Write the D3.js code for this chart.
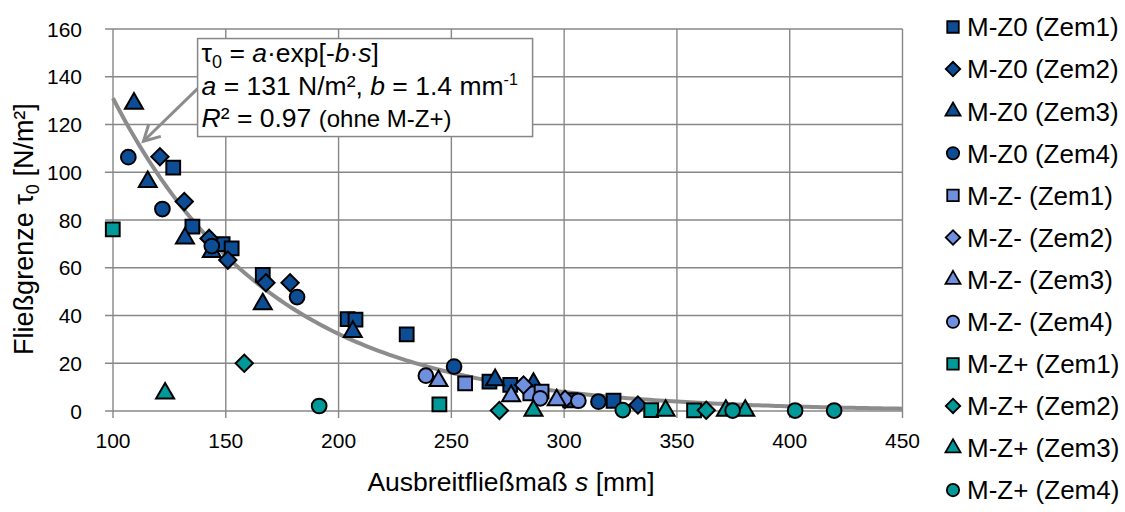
<!DOCTYPE html>
<html>
<head>
<meta charset="utf-8">
<script src="https://cdn.jsdelivr.net/npm/d3@7"></script>
<style>
  body { margin: 0; background: #fff; }
  text { font-family: "Liberation Sans", Arial, sans-serif; fill: #000; }
</style>
</head>
<body>
<div id="chart-area"></div>
<script>
// ticks
const xTicks = [100, 150, 200, 250, 300, 350, 400, 450];
const yTicks = [0, 20, 40, 60, 80, 100, 120, 140, 160];

// fit from the annotation: tau0 = a*exp[-b*s], b per 100 mm, from s = 100 mm
const fitA = 131;
const fitB = 1.4;
const fitStart = 100;
const fitEnd = 450;

// measured points [s mm, tau0 N/m2]
const mz0Zem1 = [[126.7, 101.9], [135.2, 77.2], [148.6, 69.9], [152.6, 68.1], [166.4, 57.0], [204, 38.5], [207.5, 38.3], [230.2, 32.1], [266.9, 12.3], [276.1, 10.9], [302.7, 4.5], [321.9, 4.3]];
const mz0Zem2 = [[120.8, 106.5], [131.6, 87.7], [142.6, 72.3], [150.9, 63.2], [167.8, 53.7], [178.5, 53.7], [332.7, 2.5]];
const mz0Zem3 = [[109.3, 128.8], [115.4, 96.0], [131.9, 72.3], [143.8, 66.7], [166.4, 44.8], [206.3, 33.2], [269.4, 13.0], [286.4, 11.5]];
const mz0Zem4 = [[106.8, 106.3], [121.9, 84.6], [143.8, 69.1], [181.6, 47.7], [251.2, 18.6], [315.2, 3.9]];
const mzmZem1 = [[256.1, 11.6], [285, 7.4], [290, 8.1]];
const mzmZem2 = [[282, 10.9], [300.4, 4.9]];
const mzmZem3 = [[244.3, 12.6], [276.5, 6.3], [296.7, 4.6]];
const mzmZem4 = [[238.7, 14.8], [289.4, 5.3], [306.3, 4.3]];
const mzpZem1 = [[99.9, 76.1], [244.7, 2.8], [338.6, 0.4], [357.6, 0.3]];
const mzpZem2 = [[158.2, 20.0], [271.3, 0.2], [363, 0.3]];
const mzpZem3 = [[123.1, 7.4], [286.4, 0.2], [345, 0.2], [371.7, 0.2], [380.3, 0.2]];
const mzpZem4 = [[191.4, 2.1], [326, 0.4], [374.7, 0.2], [402.4, 0.2], [419.7, 0.2]];

const seriesNames = [
  "M-Z0 (Zem1)", "M-Z0 (Zem2)", "M-Z0 (Zem3)", "M-Z0 (Zem4)",
  "M-Z- (Zem1)", "M-Z- (Zem2)", "M-Z- (Zem3)", "M-Z- (Zem4)",
  "M-Z+ (Zem1)", "M-Z+ (Zem2)", "M-Z+ (Zem3)", "M-Z+ (Zem4)"
];
const seriesData = [mz0Zem1, mz0Zem2, mz0Zem3, mz0Zem4, mzmZem1, mzmZem2, mzmZem3, mzmZem4, mzpZem1, mzpZem2, mzpZem3, mzpZem4];

const mixColors = ["#0d4d96", "#6f8fdf", "#00999a"];
// square, diamond (rotated square), triangle, circle
const shapes = [d3.symbolSquare, d3.symbolSquare, d3.symbolTriangle, d3.symbolCircle];
const shapeRotate = [0, 45, 0, 0];
const shapeSize = [190, 150, 140, 170];

const series = seriesNames.map((name, i) => {
  return {
    name: name,
    points: seriesData[i],
    color: mixColors[Math.floor(i / 4)],
    shape: shapes[i % 4],
    rotate: shapeRotate[i % 4],
    size: shapeSize[i % 4],
  };
});

const gridColor = "#878787";

const svg = d3
  .select("#chart-area")
  .append("svg")
  .attr("width", 1125)
  .attr("height", 512);

const x = d3.scaleLinear([100, 450], [113, 902.5]);
const y = d3.scaleLinear([0, 160], [411, 29]);

// grid
svg
  .append("g")
  .selectAll("line")
  .data(yTicks)
  .join("line")
  .attr("x1", x(100) - 8)
  .attr("x2", x(450))
  .attr("y1", (d) => y(d))
  .attr("y2", (d) => y(d))
  .attr("stroke", gridColor)
  .attr("stroke-width", 1.4);

svg
  .append("g")
  .selectAll("line")
  .data(xTicks)
  .join("line")
  .attr("x1", (d) => x(d))
  .attr("x2", (d) => x(d))
  .attr("y1", y(160))
  .attr("y2", y(0) + 7)
  .attr("stroke", gridColor)
  .attr("stroke-width", 1.4);

// tick labels
svg
  .append("g")
  .selectAll("text")
  .data(yTicks)
  .join("text")
  .attr("x", 82)
  .attr("y", (d) => y(d))
  .attr("dy", "0.36em")
  .attr("text-anchor", "end")
  .style("font-size", "21px")
  .text((d) => d);

svg
  .append("g")
  .selectAll("text")
  .data(xTicks)
  .join("text")
  .attr("x", (d) => x(d))
  .attr("y", 448)
  .attr("text-anchor", "middle")
  .style("font-size", "21px")
  .text((d) => d);

// axis titles
const xTitle = svg
  .append("text")
  .attr("x", 511)
  .attr("y", 491)
  .attr("text-anchor", "middle")
  .style("font-size", "26.5px");
xTitle.append("tspan").text("Ausbreitfließmaß ");
xTitle.append("tspan").style("font-style", "italic").text("s");
xTitle.append("tspan").text(" [mm]");

const yTitle = svg
  .append("text")
  .attr("transform", "translate(33, 229) rotate(-90)")
  .attr("text-anchor", "middle")
  .style("font-size", "27px");
yTitle.append("tspan").text("Fließgrenze τ");
yTitle.append("tspan").attr("dy", 6).style("font-size", "18px").text("0");
yTitle.append("tspan").attr("dy", -6).text(" [N/m²]");

// fitted curve
const curveS = d3.range(fitStart, fitEnd + 1, 2);
const line = d3
  .line()
  .x((d) => x(d))
  .y((d) => y(fitA * Math.exp((-fitB * (d - fitStart)) / 100)));

svg
  .append("path")
  .datum(curveS)
  .attr("d", line)
  .attr("fill", "none")
  .attr("stroke", "#8c8c8c")
  .attr("stroke-width", 4);

// points
svg
  .append("g")
  .selectAll("g")
  .data(series)
  .join("g")
  .each(function (s) {
    d3.select(this)
      .selectAll("path")
      .data(s.points)
      .join("path")
      .attr("d", d3.symbol(s.shape, s.size))
      .attr("transform", (d) => `translate(${x(d[0])},${y(d[1])}) rotate(${s.rotate})`)
      .attr("fill", s.color)
      .attr("stroke", "#000")
      .attr("stroke-width", 2);
  });

// annotation box with arrow
const boxX = x(137.5);
const boxY = y(156);
const tip = [x(113.5), y(113)];
const start = [boxX, y(135)];

const arrowColor = "#8c8c8c";
const ang = Math.atan2(tip[1] - start[1], tip[0] - start[0]);
const wing = 18;
const spread = 0.5;

svg
  .append("line")
  .attr("x1", start[0])
  .attr("y1", start[1])
  .attr("x2", tip[0])
  .attr("y2", tip[1])
  .attr("stroke", arrowColor)
  .attr("stroke-width", 3);

svg
  .append("path")
  .attr(
    "d",
    `M${tip[0] - wing * Math.cos(ang - spread)},${tip[1] - wing * Math.sin(ang - spread)}` +
      `L${tip[0]},${tip[1]}` +
      `L${tip[0] - wing * Math.cos(ang + spread)},${tip[1] - wing * Math.sin(ang + spread)}`
  )
  .attr("fill", "none")
  .attr("stroke", arrowColor)
  .attr("stroke-width", 3);

svg
  .append("rect")
  .attr("x", boxX)
  .attr("y", boxY)
  .attr("width", 335)
  .attr("height", 98)
  .attr("fill", "#fff")
  .attr("stroke", gridColor)
  .attr("stroke-width", 1.5);

const note = svg.append("g").style("font-size", "26.5px");

const l1 = note.append("text").attr("x", boxX + 4).attr("y", boxY + 23);
l1.append("tspan").text("τ");
l1.append("tspan").attr("dy", 6).style("font-size", "18px").text("0");
l1.append("tspan").attr("dy", -6).text(" = ");
l1.append("tspan").style("font-style", "italic").text("a");
l1.append("tspan").text("·exp[-");
l1.append("tspan").style("font-style", "italic").text("b");
l1.append("tspan").text("·");
l1.append("tspan").style("font-style", "italic").text("s");
l1.append("tspan").text("]");

const l2 = note.append("text").attr("x", boxX + 4).attr("y", boxY + 56);
l2.append("tspan").style("font-style", "italic").text("a");
l2.append("tspan").text(" = 131 N/m², ");
l2.append("tspan").style("font-style", "italic").text("b");
l2.append("tspan").text(" = 1.4 mm");
l2.append("tspan").attr("dy", -10).style("font-size", "16px").text("-1");

const l3 = note.append("text").attr("x", boxX + 4).attr("y", boxY + 88);
l3.append("tspan").style("font-style", "italic").text("R");
l3.append("tspan").text("² = 0.97 ");
l3.append("tspan").style("font-size", "24px").text("(ohne M-Z+)");

// legend
const legend = svg
  .append("g")
  .selectAll("g")
  .data(series)
  .join("g")
  .attr("transform", (d, i) => `translate(953, ${27 + i * 42.1})`);

legend
  .append("path")
  .attr("d", (d) => d3.symbol(d.shape, d.size * 0.7)())
  .attr("transform", (d) => `rotate(${d.rotate})`)
  .attr("fill", (d) => d.color)
  .attr("stroke", "#000")
  .attr("stroke-width", 1.8);

legend
  .append("text")
  .attr("x", 14)
  .attr("dy", "0.36em")
  .style("font-size", "26px")
  .text((d) => d.name);
</script>
</body>
</html>
